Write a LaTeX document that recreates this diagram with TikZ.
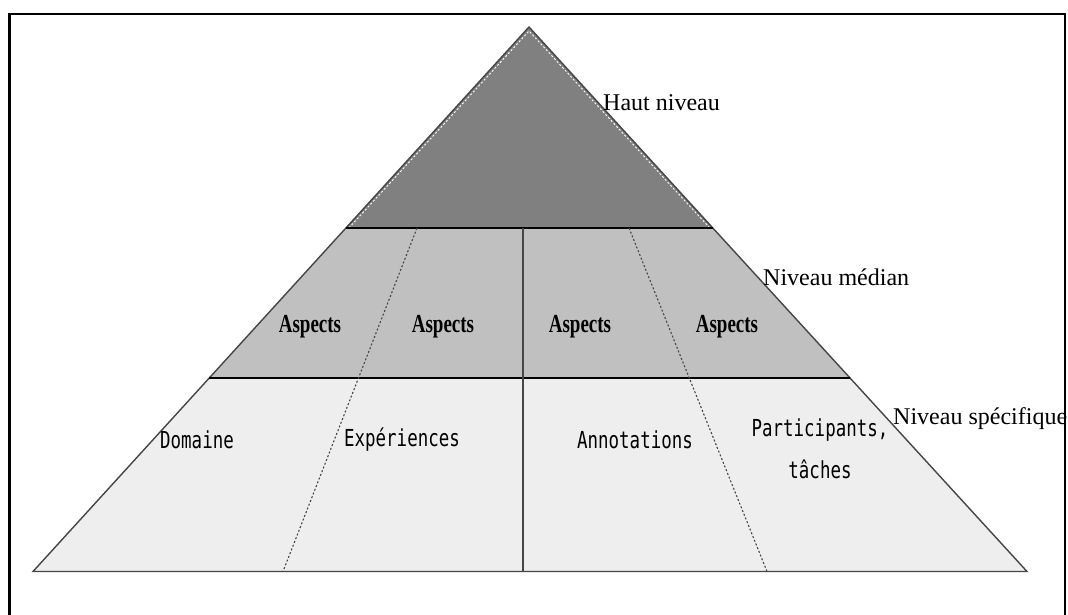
\documentclass[tikz,border=0pt]{standalone}
\usepackage{fontspec}
\setmainfont{Liberation Serif}
\newfontfamily\labelmono{DejaVu Sans Mono}
\usetikzlibrary{calc}

\definecolor{tiertop}{RGB}{128,128,128}
\definecolor{tiermid}{RGB}{192,192,192}
\definecolor{tierlow}{RGB}{238,238,238}
\definecolor{edgegray}{RGB}{70,70,70}

\newcommand{\tallbold}[1]{\scalebox{0.95}[1.3]{\bfseries #1}}
\newcommand{\tallmono}[1]{\scalebox{0.97}[1.3]{#1}}

\tikzset{
  levellabel/.style={font=\fontsize{24}{28}\selectfont, inner sep=0pt, anchor=base west},
  aspectlabel/.style={font=\fontsize{20}{24}\selectfont, inner sep=0pt},
  fieldlabel/.style={font=\labelmono\fontsize{18}{42}\selectfont, inner sep=0pt, align=center},
  bandline/.style={line width=2pt, black},
  sideline/.style={line width=1.4pt, edgegray},
  splitline/.style={line width=1.1pt, edgegray, dash pattern=on 2pt off 2pt},
  frameline/.style={line width=2.2pt, black}
}

\begin{document}
\begin{tikzpicture}[x=1pt, y=-1pt]
  \useasboundingbox (0,0) rectangle (1068,615);
  \fill[white] (0,0) rectangle (1068,615);

  % pyramid corners and band boundaries
  \coordinate (apex) at (529,27);
  \coordinate (bl) at (33,571.5);
  \coordinate (br) at (1027,571.5);
  \coordinate (l1) at ($(apex)!0.3691!(bl)$);
  \coordinate (r1) at ($(apex)!0.3691!(br)$);
  \coordinate (l2) at ($(apex)!0.6446!(bl)$);
  \coordinate (r2) at ($(apex)!0.6446!(br)$);

  % tiers
  \fill[tiertop] (apex) -- (r1) -- (l1) -- cycle;
  \fill[tiermid] (l1) -- (r1) -- (r2) -- (l2) -- cycle;
  \fill[tierlow] (l2) -- (r2) -- (br) -- (bl) -- cycle;

  % light dotted highlight along the upper sides
  \draw[white, line width=0.9pt, dash pattern=on 2pt off 2pt]
    ($(l1)+(3,0)$) -- ($(apex)+(0,4)$) -- ($(r1)+(-3,0)$);

  % outline
  \draw[sideline, line join=miter] (bl) -- (apex) -- (br) -- cycle;

  % band separators
  \draw[bandline] (l1) -- (r1);
  \draw[bandline] (l2) -- (r2);

  % column separators
  \coordinate (c1t) at (417,228);
  \coordinate (c1b) at (283,571.5);
  \coordinate (c2t) at (523,228);
  \coordinate (c2b) at (523,571.5);
  \coordinate (c3t) at (629,228);
  \coordinate (c3b) at (767,571.5);
  \draw[splitline] (c1t) -- (c1b);
  \draw[line width=1.2pt, edgegray] (c2t) -- (c2b);
  \draw[splitline] (c3t) -- (c3b);

  % middle-tier labels
  \node[aspectlabel] (a1) at (310,327) {\tallbold{Aspects}};
  \node[aspectlabel] (a2) at (443,327) {\tallbold{Aspects}};
  \node[aspectlabel] (a3) at (580,327) {\tallbold{Aspects}};
  \node[aspectlabel] (a4) at (727,327) {\tallbold{Aspects}};

  % lower-tier labels
  \node[fieldlabel] (f1) at (197,440) {\tallmono{Domaine}};
  \node[fieldlabel] (f2) at (402,440) {\tallmono{Expériences}};
  \node[fieldlabel] (f3) at (635,440) {\tallmono{Annotations}};
  \node[fieldlabel] (f4) at (820,449) {\tallmono{Participants,}\\\tallmono{tâches}};

  % level names
  \node[levellabel] (h) at (603,111) {Haut niveau};
  \node[levellabel] (m) at (763,285) {Niveau médian};
  \node[levellabel] (s) at (893,424) {Niveau spécifique};

  % frame
  \draw[frameline] (9.5,630) -- (9.5,14) -- (1065,14) -- (1065,630);
\end{tikzpicture}
\end{document}
